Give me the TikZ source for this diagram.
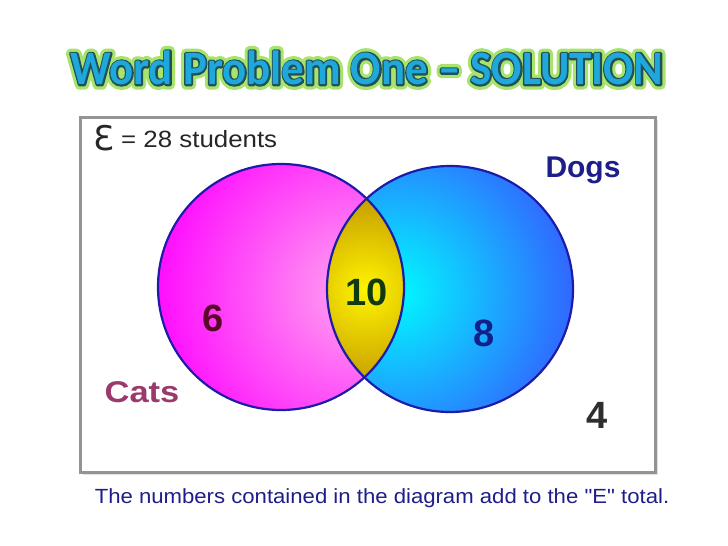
\documentclass[tikz,border=0pt]{standalone}
\usepackage{fontspec}
\setmainfont{Liberation Sans}
\newfontfamily\capfont{Liberation Sans}
\newfontfamily\titlefont{Carlito}
\newfontfamily\symfont{DejaVu Sans}
\usetikzlibrary{calc}
\definecolor{glowgreen}{HTML}{A8E46C}
\definecolor{titleline}{HTML}{22505A}
\definecolor{titlefill}{HTML}{1EA8DC}
\definecolor{venline}{HTML}{1C1CA8}
\definecolor{navy}{HTML}{1E1E8A}
\definecolor{catcol}{HTML}{9A3A6C}
\definecolor{sixcol}{HTML}{5A0828}
\definecolor{tencol}{HTML}{123A10}
\definecolor{eightcol}{HTML}{14208A}
\tikzset{
  ttl/.style={font=\titlefont\bfseries\fontsize{48}{58}\selectfont, inner sep=0pt, anchor=center, xscale=0.935, transform shape},
  num/.style={font=\bfseries\fontsize{38}{44}\selectfont, inner sep=0pt},
  lbl/.style={font=\bfseries\fontsize{30}{36}\selectfont, inner sep=0pt},
  vline/.style={draw=venline, line width=2.2pt},
}
\newcommand{\ttltext}{Word Problem One – SOLUTION}
\newcommand{\strokemode}[1]{\special{pdf:literal direct 2 Tr #1 w 1 j 1 J}}
\begin{document}
\begin{tikzpicture}[x=1pt,y=-1pt]
\useasboundingbox (0,0) rectangle (728,546);
% title
\node[ttl, text=glowgreen] (titleglow) at (367,68) {\strokemode{10}\ttltext};
\node[ttl, text=titleline] (titleline) at (367,68) {\strokemode{3.4}\ttltext};
\node[ttl, text=titlefill] (title) at (367,68) {\ttltext};
% frame
\fill[black!12] (83,120) rectangle (658,475);
\draw[draw=black!42, line width=3pt, fill=white] (80,117) rectangle (655,472);
\coordinate (frame) at (367,294);
% circles
\begin{scope}
  \clip (281,287) circle (123);
  \shade[inner color={rgb,255:red,255;green,165;blue,240}, outer color={rgb,255:red,255;green,0;blue,255}] (355,292) circle (215);
\end{scope}
\begin{scope}
  \clip (450,289) circle (123);
  \shade[inner color={rgb,255:red,0;green,250;blue,255}, outer color={rgb,255:red,55;green,85;blue,255}] (395,292) circle (200);
\end{scope}
\begin{scope}
  \clip (281,287) circle (123);
  \clip (450,289) circle (123);
  \shade[inner color={rgb,255:red,255;green,245;blue,0}, outer color={rgb,255:red,195;green,150;blue,0}] (366,290) circle (100);
\end{scope}
\draw[vline] (281,287) circle (123);
\draw[vline] (450,289) circle (123);
\coordinate (cats) at (281,287);
\coordinate (dogs) at (450,289);
% numbers and labels
\node[num, text=sixcol] (six) at (213,318) {6};
\node[num, text=tencol] (ten) at (367,292) {10};
\node[num, text=eightcol] (eight) at (484,333) {8};
\node[num, text=black!82] (four) at (597,415) {4};
\node[lbl, text=navy, anchor=base] (dogslbl) at (583,177) {Dogs};
\node[lbl, text=catcol, anchor=base, xscale=1.15, transform shape] (catslbl) at (142,402) {Cats};
\node[inner sep=0pt, anchor=base west, text=black!85, font=\symfont\fontsize{34}{40}\selectfont] (eps) at (93,150) {Ɛ};
\node[inner sep=0pt, anchor=base west, text=black!85, font=\fontsize{23.5}{28}\selectfont, xscale=1.1, transform shape] (total) at (121,147) {= 28 students};
\node[inner sep=0pt, anchor=base, text=navy, font=\capfont\fontsize{20.5}{24}\selectfont, xscale=1.08, transform shape] (caption) at (382,503) {The numbers contained in the diagram add to the "E" total.};
\end{tikzpicture}
\end{document}
